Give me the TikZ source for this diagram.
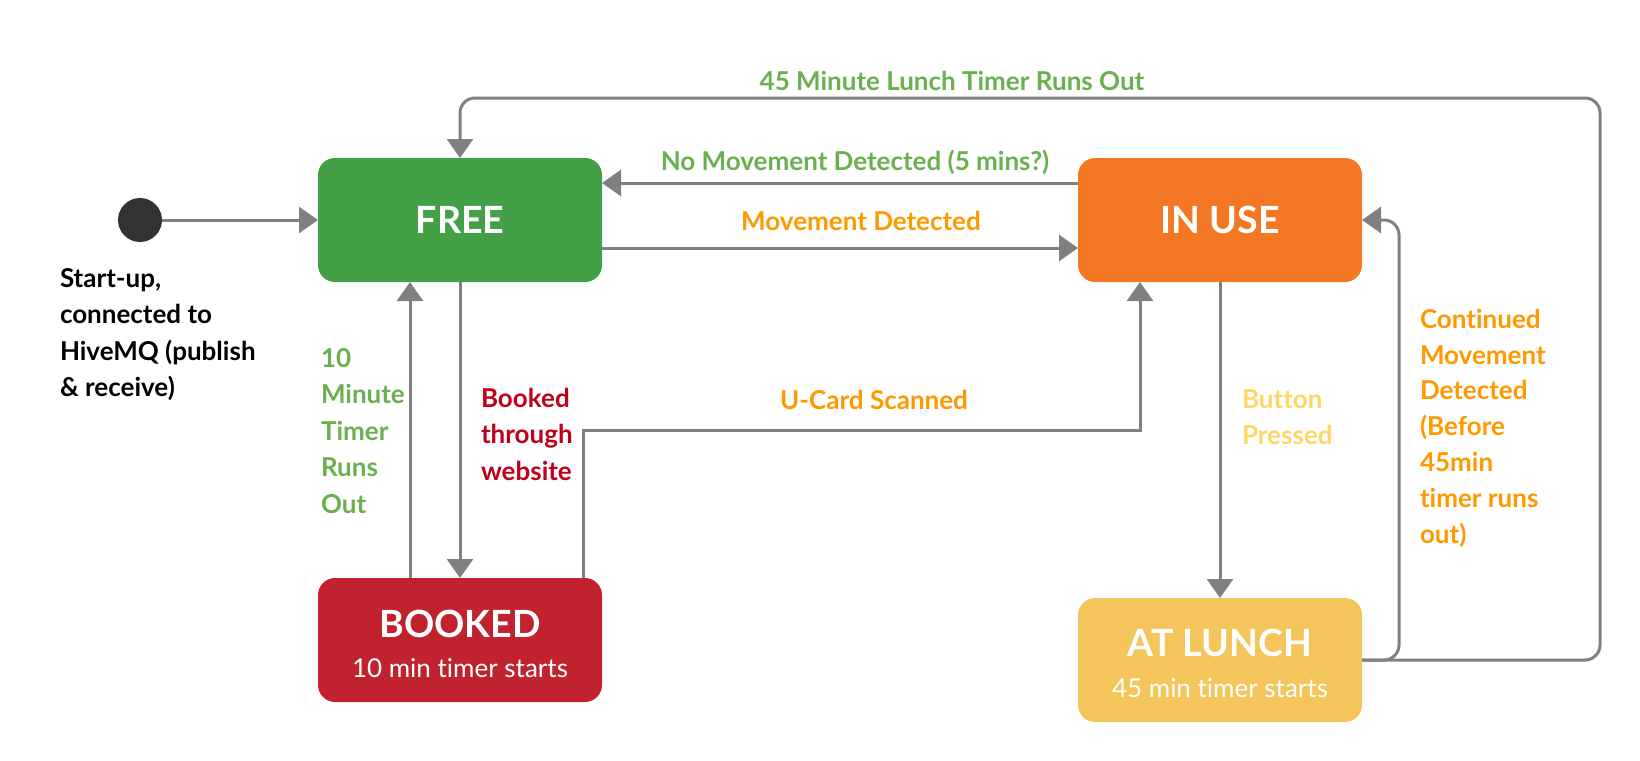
\documentclass[tikz,border=0pt]{standalone}
\usepackage{fontspec}
\setmainfont{Lato}[Ligatures={NoCommon}]
\usetikzlibrary{arrows.meta}
\definecolor{freeC}{RGB}{67,160,71}
\definecolor{inuseC}{RGB}{244,119,36}
\definecolor{bookedC}{RGB}{192,34,46}
\definecolor{lunchC}{RGB}{243,197,90}
\definecolor{arrowC}{RGB}{128,128,128}
\definecolor{dotC}{RGB}{51,51,51}
\definecolor{lgreen}{RGB}{106,176,76}
\definecolor{lorange}{RGB}{255,153,0}
\definecolor{lred}{RGB}{192,0,26}
\definecolor{lyellow}{RGB}{255,214,102}
\tikzset{
  statebox/.style={rounded corners=17pt, minimum width=284pt, minimum height=124pt,
    inner sep=0pt, outer sep=0pt, text=white, font=\fontsize{37.5}{40}\selectfont\bfseries},
  conn/.style={draw=arrowC, line width=3pt, -{Triangle[width=26pt,length=19pt]}},
  lbl/.style={inner sep=0pt, outer sep=0pt, anchor=base, font=\fontsize{26}{36.5}\selectfont\bfseries},
  mlbl/.style={lbl, anchor=base west, align=left},
  subtxt/.style={inner sep=0pt, anchor=base, text=white, font=\fontsize{26}{30}\selectfont},
  ttl/.style={inner sep=0pt, anchor=base, text=white, font=\fontsize{37.5}{40}\selectfont\bfseries}
}
\begin{document}
\begin{tikzpicture}[x=1pt,y=-1pt]
\useasboundingbox (0,0) rectangle (1640,760);

% states
\node[circle, fill=dotC, minimum size=44pt, inner sep=0pt, outer sep=0pt] (start) at (140,220) {};
\node[statebox, fill=freeC] (free) at (460,220) {FREE};
\node[statebox, fill=inuseC] (inuse) at (1220,220) {IN USE};
\node[statebox, fill=bookedC] (booked) at (460,640) {};
\node[ttl] (bookedT) at (460,637) {BOOKED};
\node[subtxt] (bookedS) at (460,677) {10 min timer starts};
\node[statebox, fill=lunchC] (lunch) at (1220,660) {};
\node[ttl] (lunchT) at (1220,656) {AT LUNCH};
\node[subtxt] (lunchS) at (1220,697) {45 min timer starts};

% bend coordinates
\coordinate (loopBR) at (1600,660);
\coordinate (loopTR) at (1600,98);
\coordinate (loopTL) at (460,98);
\coordinate (contB) at (1399,660);
\coordinate (contT) at (1399,220);
\coordinate (ucA) at (583,430);
\coordinate (ucB) at (1140,430);

% connectors
\draw[conn] (start.east) -- (free.west);
\draw[conn, rounded corners=15pt] (lunch.east) -- (loopBR) -- (loopTR) -- (loopTL) -- (free.north);
\draw[conn, rounded corners=15pt] (lunch.east) -- (contB) -- (contT) -- (inuse.east);
\draw[conn] ([yshift=37pt]inuse.west) -- ([yshift=37pt]free.east);
\draw[conn] ([yshift=-28pt]free.east) -- ([yshift=-28pt]inuse.west);
\draw[conn] (free.south) -- (booked.north);
\draw[conn] ([xshift=-50pt]booked.north) -- ([xshift=-50pt]free.south);
\draw[conn] ([xshift=123pt]booked.north) -- (ucA) -- (ucB) -- ([xshift=-80pt]inuse.south);
\draw[conn] (inuse.south) -- (lunch.north);

% labels (multi-line: base anchor sits on the last line)
\node[mlbl, text=black] (startL) at (60,396.5) {Start-up,\\connected to\\HiveMQ (publish\\\& receive)};
\node[lbl, text=lgreen] (lunchOutL) at (952,90) {45 Minute Lunch Timer Runs Out};
\node[lbl, text=lgreen] (noMoveL) at (855,170) {No Movement Detected (5 mins?)};
\node[lbl, text=lorange] (moveL) at (861,230) {Movement Detected};
\node[mlbl, text=lgreen] (tenL) at (321,513) {10\\Minute\\Timer\\Runs\\Out};
\node[mlbl, text=lred] (bookL) at (481,480) {Booked\\through\\website};
\node[lbl, text=lorange] (ucardL) at (874,409) {U-Card Scanned};
\node[mlbl, text=lyellow] (buttonL) at (1242,444.5) {Button\\Pressed};
\node[mlbl, text=lorange, font=\fontsize{26}{35.8}\selectfont\bfseries] (contL) at (1420,543) {Continued\\Movement\\Detected\\(Before\\45min\\timer runs\\out)};
\end{tikzpicture}
\end{document}
